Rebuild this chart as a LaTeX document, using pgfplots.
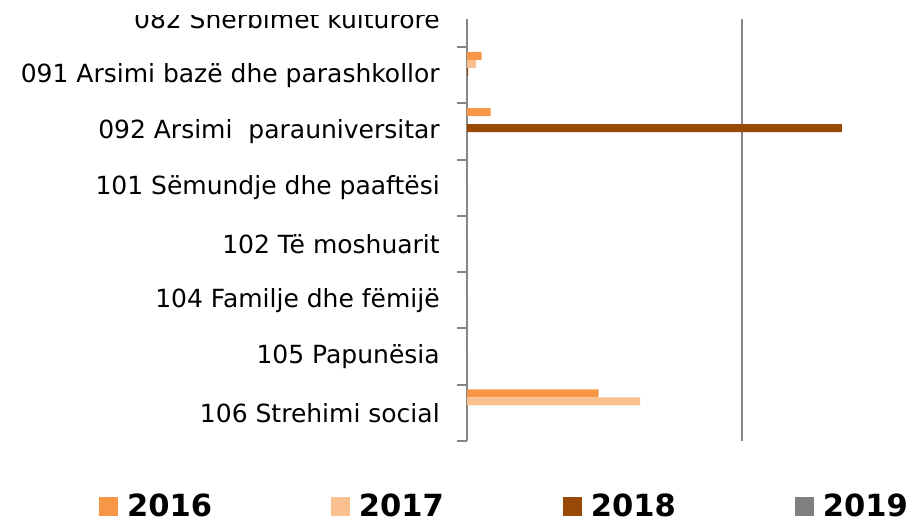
\documentclass[border=0pt]{standalone}
\usepackage{fontspec}
\setmainfont{DejaVu Sans}
\usepackage{pgfplots}
\pgfplotsset{compat=1.18}
\definecolor{c16}{HTML}{F79646}
\definecolor{c17}{HTML}{FAC090}
\definecolor{c18}{HTML}{984807}
\definecolor{c19}{HTML}{808080}
\definecolor{axgray}{HTML}{868686}
\begin{document}
\begin{tikzpicture}
\path[use as bounding box] (0,0) rectangle (684.75pt,391.5pt);
\begin{axis}[
  at={(350.25pt,60.75pt)}, anchor=south west,
  scale only axis, width=334.5pt, height=316.5pt,
  xbar, bar width=6pt,
  xmin=0, xmax=162.36,
  ymin=0, ymax=7.5, y dir=reverse,
  axis y line*=left, axis x line*=bottom,
  x axis line style={draw=none,-},
  y axis line style={draw=axgray, line width=1.5pt,-},
  xtick={100}, xticklabels={},
  xmajorgrids,
  major x grid style={draw=axgray, line width=1.5pt},
  xtick style={draw=none},
  ytick={0,...,7},
  yticklabels={082 Shërbimet kulturore,091 Arsimi bazë dhe parashkollor,092 Arsimi~ parauniversitar,101 Sëmundje dhe paaftësi,102 Të moshuarit,104 Familje dhe fëmijë,105 Papunësia,106 Strehimi social},
  minor ytick={0.5,1.5,...,7.5},
  major tick length=0pt, minor tick length=7.5pt,
  tick align=outside,
  minor y tick style={draw=axgray, line width=1.5pt},
  major y tick style={draw=none},
  yticklabel style={font=\fontsize{18.75pt}{22.5pt}\selectfont, text=black, inner sep=0pt, xshift=-20.25pt},
  legend style={at={(-0.8251,-0.1555)}, anchor=west, draw=none, fill=none, inner sep=0pt, outer sep=0pt,
    font=\bfseries\fontsize{22.9pt}{26pt}\selectfont,
    nodes={inner sep=0pt},
    /tikz/every odd column/.append style={column sep=6.75pt},
    /tikz/every even column/.append style={column sep=89.25pt}},
  legend columns=4,
  legend image code/.code={\fill[#1] (0pt,-7.125pt) rectangle (14.25pt,7.125pt);},
]
\addplot[fill=c16, draw=none, bar shift=14.625pt] coordinates {(0,0) (5.35,1) (8.6,2) (0,3) (0,4) (0,5) (0,6) (47.9,7)};
\addplot[fill=c17, draw=none, bar shift=8.625pt] coordinates {(0,0) (3.2,1) (0,2) (0,3) (0,4) (0,5) (0,6) (63.0,7)};
\addplot[fill=c18, draw=none, bar shift=2.625pt] coordinates {(0,0) (0.4,1) (136.5,2) (0,3) (0,4) (0,5) (0,6) (0,7)};
\addplot[fill=c19, draw=none, bar shift=-3.375pt] coordinates {(0,0) (0,1) (0,2) (0,3) (0,4) (0,5) (0,6) (0,7)};
\legend{2016,2017,2018,2019}
\end{axis}
\fill[white] (0,380.25pt) rectangle (684.75pt,391.5pt);
\end{tikzpicture}
\end{document}
